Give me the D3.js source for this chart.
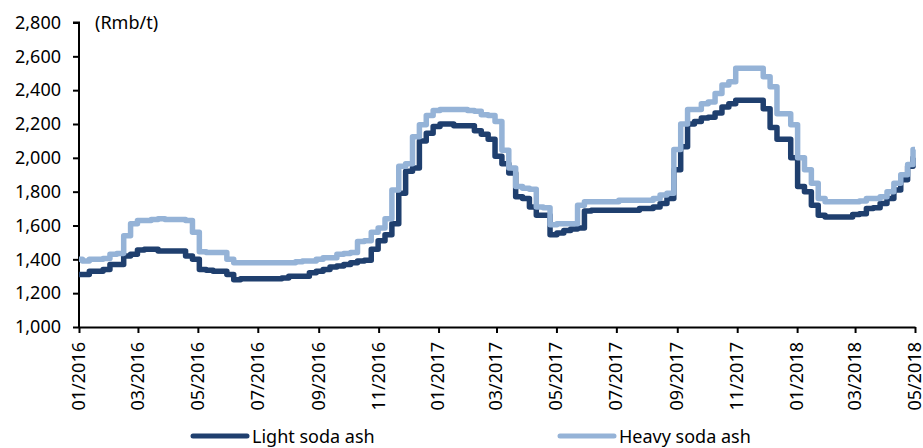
<!DOCTYPE html>
<html>
<head>
<meta charset="utf-8">
<script src="https://cdn.jsdelivr.net/npm/d3@7"></script>
<style>
  html, body { margin: 0; padding: 0; background: #fff; }
  svg { display: block; font-family: "Noto Sans", "Open Sans", sans-serif; }
</style>
</head>
<body>
<svg id="chart" width="923" height="448"></svg>
<script>
// Weekly soda ash prices in China, Rmb per tonne (Jan 2016 – May 2018)
const seriesNames = ["Light soda ash", "Heavy soda ash"];

const lightSodaAsh = [
  1310,1310,1330,1330,1340,1370,1370,1420,1430,1455,
  1460,1460,1450,1450,1450,1450,1420,1400,1340,1335,
  1330,1330,1310,1280,1285,1285,1285,1285,1285,1285,
  1290,1300,1300,1300,1320,1330,1340,1355,1360,1370,
  1380,1390,1395,1460,1510,1545,1610,1790,1920,1940,
  2100,2145,2185,2200,2200,2190,2190,2190,2160,2140,
  2110,2010,1965,1910,1770,1760,1710,1660,1660,1545,
  1555,1570,1580,1585,1685,1690,1690,1690,1690,1690,
  1690,1690,1700,1700,1710,1730,1760,1930,2065,2200,
  2215,2235,2240,2265,2300,2320,2340,2340,2340,2340,
  2290,2180,2110,2110,2000,1830,1800,1720,1660,1650,
  1650,1650,1650,1665,1670,1700,1705,1730,1760,1810,
  1870,1950,
  2000
];

const heavySodaAsh = [
  1400,1390,1400,1400,1405,1430,1435,1540,1610,1630,
  1630,1635,1640,1635,1635,1635,1630,1560,1445,1440,
  1440,1440,1400,1380,1380,1380,1380,1380,1380,1380,
  1380,1380,1385,1390,1390,1400,1410,1410,1430,1435,
  1440,1505,1510,1560,1585,1640,1810,1950,1965,2125,
  2195,2250,2280,2285,2285,2285,2285,2280,2275,2255,
  2250,2215,2045,1940,1830,1820,1815,1710,1705,1605,
  1610,1610,1610,1720,1740,1740,1740,1740,1740,1750,
  1750,1750,1750,1750,1760,1780,1790,2050,2200,2285,
  2285,2320,2330,2380,2430,2450,2530,2530,2530,2530,
  2480,2420,2260,2260,2195,2000,1930,1850,1760,1740,
  1740,1740,1740,1740,1745,1760,1760,1770,1800,1850,
  1900,1960,
  2050
];

// Observation dates: weekly from 1 Jan 2016, last reading on 1 May 2018
const startDate = new Date(2016, 0, 1);
const endDate = new Date(2018, 4, 1);
const dates = d3.range(lightSodaAsh.length - 1)
  .map(i => d3.timeDay.offset(startDate, 7 * i))
  .concat([endDate]);

const xTickDates = [
  "01/2016","03/2016","05/2016","07/2016","09/2016","11/2016","01/2017",
  "03/2017","05/2017","07/2017","09/2017","11/2017","01/2018","03/2018","05/2018"
];
const yTicks = [1000,1200,1400,1600,1800,2000,2200,2400,2600,2800];
const unitLabel = "(Rmb/t)";

const colors = ["#1F3F6E", "#95B3D7"];

const svg = d3.select("#chart");
const margin = { top: 22.5, right: 8, bottom: 121, left: 79 };
const W = 923, H = 448;
const parseTick = d3.timeParse("%m/%Y");

const x = d3.scaleTime()
  .domain([startDate, endDate])
  .range([margin.left, W - margin.right]);
const y = d3.scaleLinear()
  .domain([1000, 2800])
  .range([H - margin.bottom, margin.top]);

const fmt = d3.format(",");

// Y axis
const yAxis = svg.append("g")
  .attr("transform", `translate(${margin.left},0)`)
  .call(d3.axisLeft(y).tickValues(yTicks).tickFormat(fmt).tickSize(6).tickPadding(12));
// X axis
const xAxis = svg.append("g")
  .attr("transform", `translate(0,${H - margin.bottom})`)
  .call(d3.axisBottom(x).tickValues(xTickDates.map(parseTick))
    .tickFormat(d3.timeFormat("%m/%Y")).tickSize(6).tickSizeOuter(0));

[yAxis, xAxis].forEach(g => {
  g.select(".domain").attr("stroke", "#000").attr("stroke-width", 2);
  g.selectAll(".tick line").attr("stroke", "#000").attr("stroke-width", 2);
  g.selectAll("text").attr("fill", "#000").style("font-size", "18px")
    .style("font-family", "'Noto Sans', 'Open Sans', sans-serif");
});
yAxis.select(".domain").attr("d", `M-6,${y(2800)}H0V${y(1000)}`);

xAxis.selectAll(".tick text")
  .attr("transform", "rotate(-90)")
  .attr("text-anchor", "end")
  .attr("dy", "0.3em")
  .attr("x", -15)
  .attr("y", 0);

// Unit label
svg.append("text")
  .attr("x", 95).attr("y", 29)
  .attr("fill", "#000")
  .style("font-size", "18px")
  .text(unitLabel);

// Lines: prices move in discrete steps between weekly readings
const seriesData = [lightSodaAsh, heavySodaAsh];
const line = d3.line()
  .x((d, i) => x(dates[i]))
  .y(d => y(d))
  .curve(d3.curveStep);

svg.append("g").selectAll("path")
  .data(seriesData)
  .join("path")
  .attr("d", d => line(d))
  .attr("fill", "none")
  .attr("stroke", (d, i) => colors[i])
  .attr("stroke-width", 5.5)
  .attr("stroke-linejoin", "round")
  .attr("stroke-linecap", "butt");

// Legend
const legendItems = [
  { name: seriesNames[0], color: colors[0], x0: 193 },
  { name: seriesNames[1], color: colors[1], x0: 560 }
];
const legend = svg.append("g");
legendItems.forEach(item => {
  legend.append("line")
    .attr("x1", item.x0).attr("x2", item.x0 + 54)
    .attr("y1", 436).attr("y2", 436)
    .attr("stroke", item.color)
    .attr("stroke-width", 5)
    .attr("stroke-linecap", "round");
  legend.append("text")
    .attr("x", item.x0 + 59).attr("y", 443)
    .attr("fill", "#000")
    .style("font-size", "18px")
    .text(item.name);
});
</script>
</body>
</html>
